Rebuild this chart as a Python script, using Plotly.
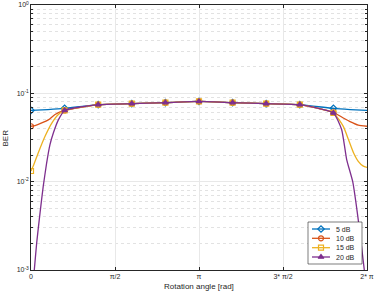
import numpy as np
import plotly.graph_objects as go

PI = np.pi

# ---- data (angles in units of pi) ----
mid_theta = [0.4, 0.6, 0.8, 1.0, 1.2, 1.4, 1.6]
mid_ber = [0.0744, 0.0764, 0.0785, 0.081, 0.0785, 0.0764, 0.0744]

theta_5 = [0.0, 0.1, 0.2] + mid_theta + [1.8, 1.9, 2.0]
ber_5 = [0.064, 0.0655, 0.0676] + mid_ber + [0.0676, 0.0655, 0.064]

theta_10 = [0.0, 0.024, 0.064, 0.103, 0.143, 0.2] + mid_theta + [1.8, 1.859, 1.899, 1.948, 2.0]
ber_10 = [0.0424, 0.0432, 0.0462, 0.050, 0.0575, 0.064] + mid_ber + [0.061, 0.0525, 0.0479, 0.0437, 0.0424]

theta_15 = [0.0, 0.014, 0.044, 0.083, 0.123, 0.163, 0.2] + mid_theta + [1.8, 1.859, 1.889, 1.919, 1.948, 1.978, 2.0]
ber_15 = [0.0132, 0.0151, 0.0214, 0.0324, 0.0457, 0.0575, 0.064] + mid_ber + [0.060, 0.0422, 0.0302, 0.0214, 0.0170, 0.0150, 0.0145]

theta_20 = [0.0, 0.0196, 0.034, 0.054, 0.073, 0.093, 0.113, 0.133, 0.163, 0.2] + mid_theta + [1.8, 1.849, 1.879, 1.915, 1.948, 1.984, 2.0]
ber_20 = [0.0004, 0.001, 0.00204, 0.00447, 0.0089, 0.0162, 0.0263, 0.0355, 0.050, 0.064] + mid_ber + [0.060, 0.0389, 0.0178, 0.010, 0.0037, 0.001, 0.0005]

mark_theta = [0.0, 0.2, 0.4, 0.6, 0.8, 1.0, 1.2, 1.4, 1.6, 1.8]
mark_5 = [0.064, 0.0676, 0.0744, 0.0764, 0.0785, 0.081, 0.0785, 0.0764, 0.0744, 0.0676]
mark_10 = [0.0424, 0.064, 0.0744, 0.0764, 0.0785, 0.081, 0.0785, 0.0764, 0.0744, 0.061]
mark_15 = [0.0132, 0.064, 0.0744, 0.0764, 0.0785, 0.081, 0.0785, 0.0764, 0.0744, 0.060]
mark_20 = [0.0004, 0.064, 0.0744, 0.0764, 0.0785, 0.081, 0.0785, 0.0764, 0.0744, 0.060]

names = ["5 dB", "10 dB", "15 dB", "20 dB"]
colors = ["#0072BD", "#D95319", "#EDB120", "#7E2F8E"]
symbols = ["diamond-open", "circle-open", "square-open", "triangle-up"]

x_tickvals = [0, 0.5, 1.0, 1.5, 2.0]
x_ticktext = ["0", "\u03c0/2", "\u03c0", "3* \u03c0/2", "2* \u03c0"]
y_tickvals = [1e-3, 1e-2, 1e-1, 1]
y_ticktext = ["10<sup>-3</sup>", "10<sup>-2</sup>", "10<sup>-1</sup>", "10<sup>0</sup>"]

FONT = "Liberation Sans, Arial, sans-serif"
TXT = "#262626"

series = [
    (theta_5, ber_5, mark_5),
    (theta_10, ber_10, mark_10),
    (theta_15, ber_15, mark_15),
    (theta_20, ber_20, mark_20),
]

fig = go.Figure()
for (th, b, mk), nm, c, s in zip(series, names, colors, symbols):
    fig.add_trace(go.Scatter(
        x=[t * PI for t in th], y=b, mode="lines", name=nm,
        line=dict(color=c, width=1.3, shape="spline", smoothing=0.5),
        showlegend=False, hoverinfo="skip"))
    fig.add_trace(go.Scatter(
        x=[t * PI for t in mark_theta], y=mk, mode="markers", name=nm,
        marker=dict(symbol=s, color=c, size=5, line=dict(color=c, width=1.2)),
        showlegend=False))

# ---- custom legend box on an overlay axis (units: px inside plot area) ----
PW, PH = 336, 265
box_x = [277, 331, 331, 277, 277]
box_y = [217, 217, 259, 259, 217]
fig.add_trace(go.Scatter(x=box_x, y=box_y, xaxis="x2", yaxis="y2", mode="lines",
                         fill="toself", fillcolor="white",
                         line=dict(color=TXT, width=0.6),
                         showlegend=False, hoverinfo="skip"))
row_y = [224, 233.3, 242.7, 252]
for ry, nm, c, s in zip(row_y, names, colors, symbols):
    fig.add_trace(go.Scatter(x=[281, 290, 299], y=[ry, ry, ry], xaxis="x2", yaxis="y2",
                             mode="lines", line=dict(color=c, width=1.3),
                             showlegend=False, hoverinfo="skip"))
    fig.add_trace(go.Scatter(x=[290], y=[ry], xaxis="x2", yaxis="y2", mode="markers",
                             marker=dict(symbol=s, color=c, size=5, line=dict(color=c, width=1.2)),
                             showlegend=False, hoverinfo="skip"))
    fig.add_annotation(x=303, y=ry, xref="x2", yref="y2", text=nm, showarrow=False,
                       xanchor="left", yanchor="middle",
                       font=dict(family=FONT, size=7, color=TXT))

axis_common = dict(
    showline=True, linecolor=TXT, linewidth=0.6, mirror="ticks",
    ticks="inside", ticklen=3, tickcolor=TXT,
    showgrid=True, gridcolor="#e8e8e8", gridwidth=0.6,
    zeroline=False, automargin=False,
    tickfont=dict(family=FONT, size=7, color=TXT),
)

fig.update_layout(
    xaxis=dict(range=[0, 2 * PI], tickmode="array",
               tickvals=[v * PI for v in x_tickvals], ticktext=x_ticktext,
               **axis_common),
    yaxis=dict(type="log", range=[-3, 0], tickmode="array",
               tickvals=y_tickvals, ticktext=y_ticktext,
               minor=dict(dtick="D1", ticks="inside", ticklen=2, tickcolor=TXT,
                          showgrid=True, gridcolor="#e2e2e2", griddash="dot", gridwidth=0.5),
               **axis_common),
    xaxis2=dict(range=[0, PW], overlaying="x", visible=False, fixedrange=True),
    yaxis2=dict(range=[PH, 0], overlaying="y", visible=False, fixedrange=True),
    width=374, height=295,
    margin=dict(l=31, r=7, t=5, b=25),
    paper_bgcolor="white", plot_bgcolor="white",
    showlegend=False,
    annotations=list(fig.layout.annotations) + [
        dict(text="Rotation angle [rad]", x=0.5, y=-0.064, xref="paper", yref="paper",
             xanchor="center", yanchor="middle", showarrow=False,
             font=dict(family=FONT, size=8, color=TXT)),
        dict(text="BER", x=-0.0759, y=0.498, xref="paper", yref="paper", textangle=-90,
             xanchor="center", yanchor="middle", showarrow=False,
             font=dict(family=FONT, size=8, color=TXT)),
    ],
)

fig.write_html("out.html", config={"displayModeBar": False},
               post_script="document.body.style.margin='0';document.body.style.overflow='hidden';")
